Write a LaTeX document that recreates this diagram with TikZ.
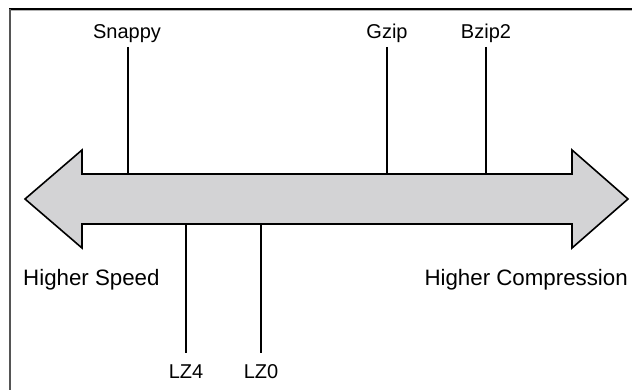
\documentclass[tikz,border=0pt]{standalone}
\usepackage{fontspec}
\setmainfont{Liberation Sans}
\definecolor{arrowfill}{RGB}{211,211,213}
\definecolor{framegray}{RGB}{85,85,85}
\begin{document}
\begin{tikzpicture}[x=1pt,y=-1pt,
  lbl/.style={inner sep=0pt,anchor=base,font=\fontsize{20}{23}\selectfont},
  side/.style={inner sep=0pt,font=\fontsize{22.3}{26}\selectfont},
  tick/.style={line width=1.8pt,black},
  bigarrow/.style={draw=black,line width=1.6pt,fill=arrowfill,line join=miter}]
\useasboundingbox (0,0) rectangle (632,390);
\fill[white] (0,0) rectangle (632,390);
% frame
\draw[line width=2pt,black] (9,9) -- (632,9);
\draw[line width=0.8pt,gray!60] (11,10.8) -- (632,10.8);
\draw[line width=2pt,framegray] (10,9) -- (10,390);
% double arrow
\draw[bigarrow] (25,199) -- (82,150) -- (82,174) -- (572,174) -- (572,150)
  -- (628,199) -- (572,248) -- (572,224) -- (82,224) -- (82,248) -- cycle;
% labels
\node[lbl] (snappy) at (127,39) {Snappy};
\node[lbl] (gzip) at (387,39) {Gzip};
\node[lbl] (bzip) at (486,39) {Bzip2};
\node[lbl] (lzf) at (186,378) {LZ4};
\node[lbl] (lzo) at (261,378) {LZ0};
\node[side,anchor=base west] (speed) at (23,286) {Higher Speed};
\node[side,anchor=base east] (comp) at (628,285) {Higher Compression};
% attachment points on the arrow
\coordinate (snappyA) at (128,174);
\coordinate (gzipA) at (387,174);
\coordinate (bzipA) at (486,174);
\coordinate (lzfA) at (186,224);
\coordinate (lzoA) at (261,224);
% ticks
\draw[tick] (snappyA |- 0,47) -- (snappyA);
\draw[tick] (gzipA |- 0,47) -- (gzipA);
\draw[tick] (bzipA |- 0,47) -- (bzipA);
\draw[tick] (lzfA) -- (lzfA |- 0,353);
\draw[tick] (lzoA) -- (lzoA |- 0,353);
\end{tikzpicture}
\end{document}
